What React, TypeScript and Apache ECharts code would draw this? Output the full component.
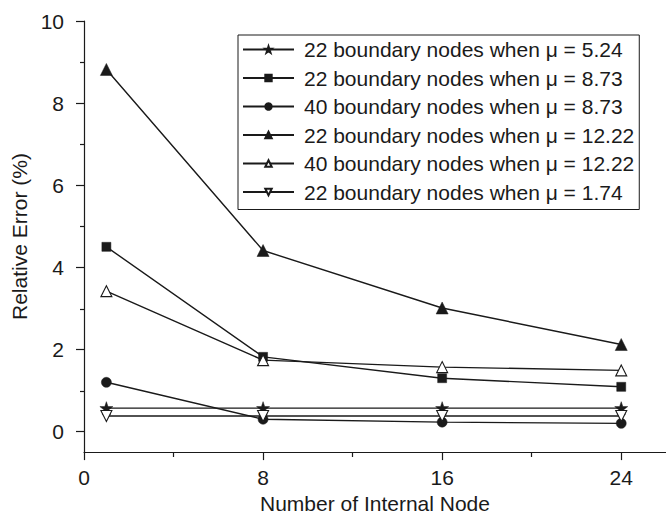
import React, { useEffect, useRef } from "react";
import * as echarts from "echarts";

const xValues = [1, 8, 16, 24];
const xTickLabels = [0, 8, 16, 24];
const xMinorTicks = [4, 12, 20];
const yTickLabels = [0, 2, 4, 6, 8, 10];
const yMinorTicks = [1, 3, 5, 7, 9];

const seriesNames = [
  "22 boundary nodes when \u03bc = 5.24",
  "22 boundary nodes when \u03bc = 8.73",
  "40 boundary nodes when \u03bc = 8.73",
  "22 boundary nodes when \u03bc = 12.22",
  "40 boundary nodes when \u03bc = 12.22",
  "22 boundary nodes when \u03bc = 1.74",
];

const star522 = [0.57, 0.57, 0.57, 0.57];
const sq873 = [4.5, 1.82, 1.3, 1.09];
const circ873 = [1.2, 0.3, 0.23, 0.2];
const tri1222 = [8.82, 4.41, 3.01, 2.12];
const openTri1222 = [3.42, 1.74, 1.57, 1.49];
const invTri174 = [0.38, 0.38, 0.38, 0.38];

const STAR = "path://M50,0 L61.8,34.5 L97.6,34.5 L68.5,55.9 L79.4,90.5 L50,69.1 L20.6,90.5 L31.5,55.9 L2.4,34.5 L38.2,34.5 Z";

const FONT = "'Liberation Sans', Arial, Helvetica, sans-serif";
const INK = "#1a1a1a";

export default function App() {
  const ref = useRef<HTMLDivElement>(null);

  useEffect(() => {
    document.body.style.margin = "0";
    if (!ref.current) return;
    const chart = echarts.init(ref.current, undefined, { renderer: "svg" });

    const mk = (
      name: string,
      data: number[],
      symbol: string,
      size: number,
      filled: boolean,
      rotate = 0
    ) => ({
      name,
      type: "line",
      xAxisIndex: 0,
      yAxisIndex: 0,
      data: xValues.map((x, i) => [x, data[i]]),
      symbol,
      symbolSize: size,
      symbolRotate: rotate,
      showAllSymbol: true,
      lineStyle: { color: INK, width: 1.4 },
      itemStyle: filled
        ? { color: INK, borderColor: INK, borderWidth: 0.5 }
        : { color: "#ffffff", borderColor: INK, borderWidth: 1.1 },
      emphasis: { disabled: true },
      z: 3,
    });

    const axisText = { fontFamily: FONT, fontSize: 21, color: INK };

    chart.setOption({
      animation: false,
      backgroundColor: "#ffffff",
      textStyle: { fontFamily: FONT },
      grid: [
        { left: 84, right: 0, top: 21, bottom: 66, containLabel: false },
        { left: 84, right: 0, top: 21, bottom: 66, containLabel: false },
      ],
      legend: {
        orient: "vertical",
        left: 238,
        top: 35,
        padding: [4, 5, 7, 4],
        itemGap: 7.5,
        itemWidth: 51,
        itemHeight: 8,
        borderColor: INK,
        borderWidth: 1,
        backgroundColor: "#ffffff",
        selectedMode: false,
        data: seriesNames,
        textStyle: {
          fontFamily: FONT,
          fontSize: 21,
          color: INK,
          lineHeight: 20,
          padding: [0, 0, 0, 5],
        },
      },
      xAxis: [
        {
          type: "value",
          gridIndex: 0,
          min: 0,
          max: 26,
          name: "Number of Internal Node",
          nameLocation: "middle",
          nameGap: 38,
          nameTextStyle: axisText,
          axisLine: { show: true, onZero: false, lineStyle: { color: INK, width: 1.2 } },
          axisTick: { show: true, customValues: xTickLabels, length: 8, lineStyle: { color: INK, width: 1.2 } },
          axisLabel: { customValues: xTickLabels, margin: 15, ...axisText },
          splitLine: { show: false },
        },
        {
          type: "value",
          gridIndex: 1,
          min: 0,
          max: 26,
          position: "bottom",
          axisLine: { show: false, onZero: false },
          axisTick: { show: true, customValues: xMinorTicks, length: 4, lineStyle: { color: INK, width: 1.2 } },
          axisLabel: { show: false },
          splitLine: { show: false },
        },
      ],
      yAxis: [
        {
          type: "value",
          gridIndex: 0,
          min: -0.5,
          max: 10,
          name: "Relative Error (%)",
          nameLocation: "middle",
          nameGap: 46,
          nameTextStyle: axisText,
          axisLine: { show: true, onZero: false, lineStyle: { color: INK, width: 1.2 } },
          axisTick: { show: true, customValues: yTickLabels, length: 8, lineStyle: { color: INK, width: 1.2 } },
          axisLabel: { customValues: yTickLabels, margin: 20, ...axisText },
          splitLine: { show: false },
        },
        {
          type: "value",
          gridIndex: 1,
          min: -0.5,
          max: 10,
          position: "left",
          axisLine: { show: false, onZero: false },
          axisTick: { show: true, customValues: yMinorTicks, length: 4, lineStyle: { color: INK, width: 1.2 } },
          axisLabel: { show: false },
          splitLine: { show: false },
        },
      ],
      series: [
        mk(seriesNames[0], star522, STAR, 13, true),
        mk(seriesNames[1], sq873, "rect", 9, true),
        mk(seriesNames[2], circ873, "circle", 10, true),
        mk(seriesNames[3], tri1222, "triangle", 12, true),
        mk(seriesNames[4], openTri1222, "triangle", 11, false),
        mk(seriesNames[5], invTri174, "triangle", 11, false, 180),
      ],
    });

    return () => chart.dispose();
  }, []);

  return <div ref={ref} style={{ width: 666, height: 519 }} />;
}
